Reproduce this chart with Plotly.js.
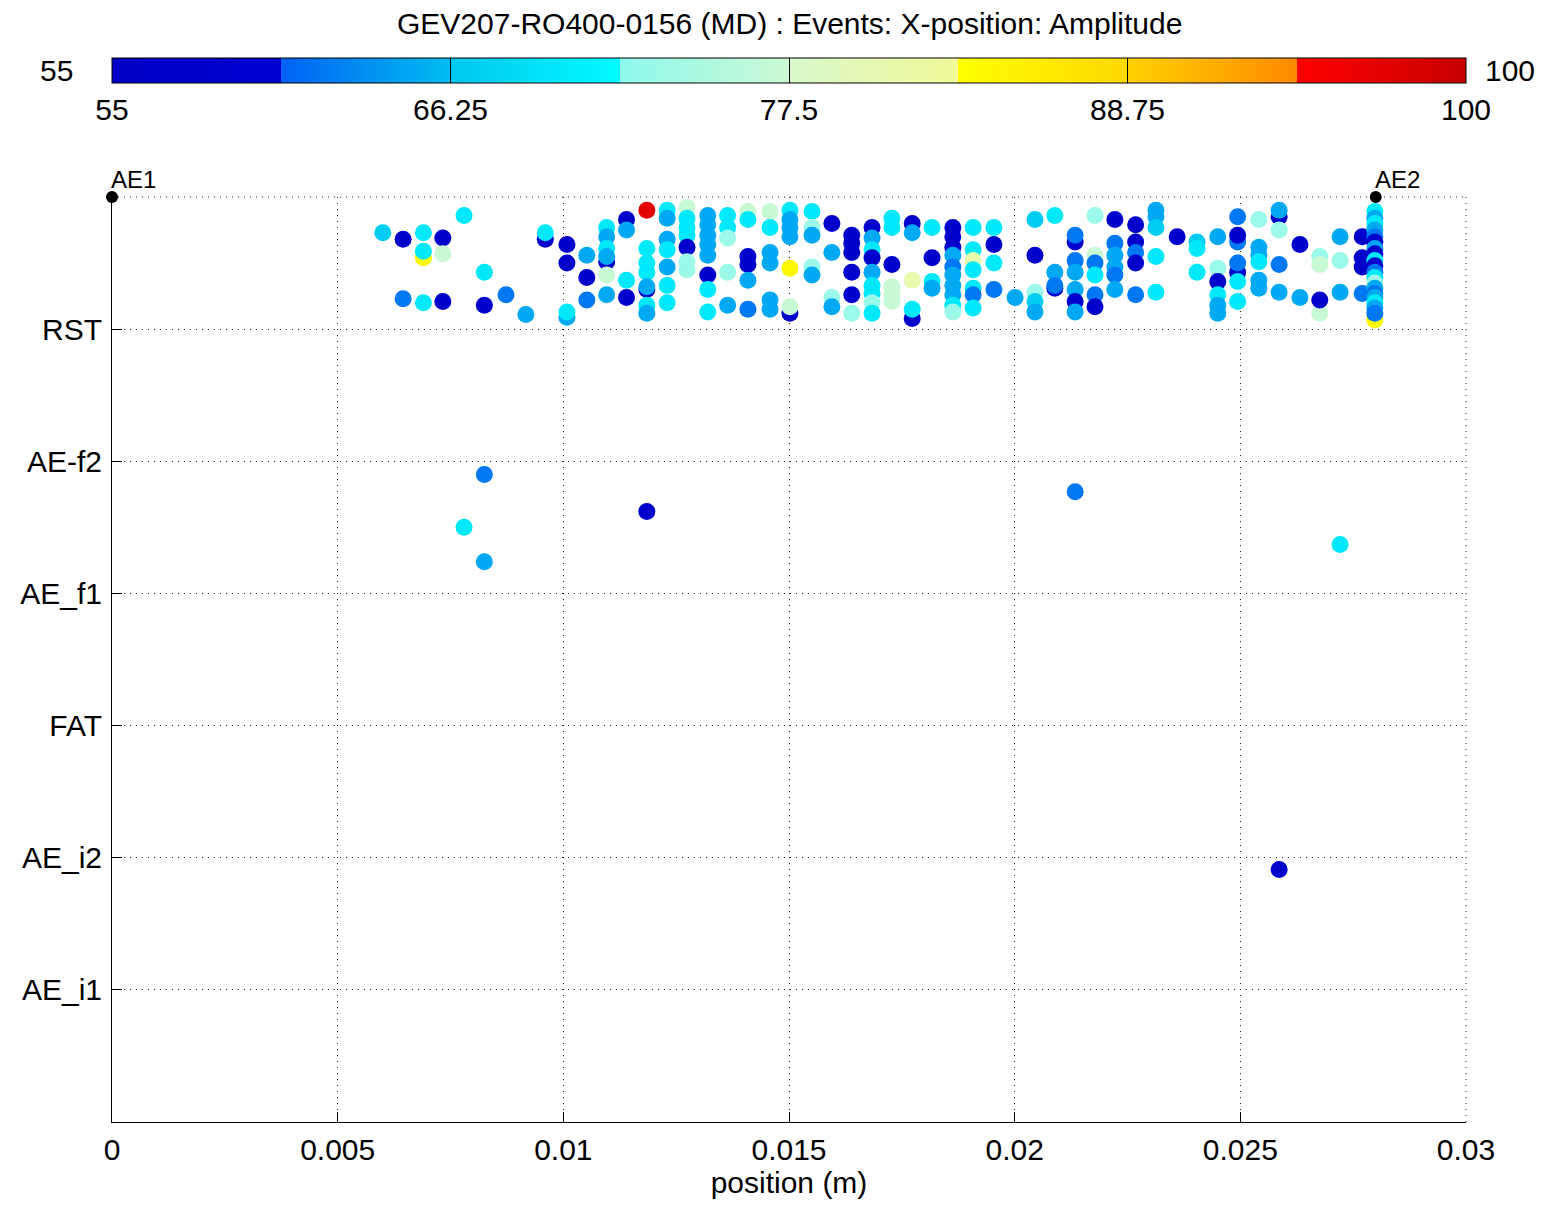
<!DOCTYPE html>
<html>
<head>
<meta charset="utf-8">
<script src="https://cdn.plot.ly/plotly-3.0.1.min.js"></script>
<style>html,body{margin:0;padding:0;background:#fff;}#chart{width:1545px;height:1207px;}</style>
</head>
<body>
<div id="chart"></div>
<script>
// ---- Data ----
const chartTitle = 'GEV207-RO400-0156 (MD) : Events: X-position: Amplitude';
const xTitle = 'position (m)';
const xTickVals = [0, 0.005, 0.01, 0.015, 0.02, 0.025, 0.03];
const xTickText = ['0', '0.005', '0.01', '0.015', '0.02', '0.025', '0.03'];
const yTickVals = [1, 2, 3, 4, 5, 6, 7];
const yTickText = ['AE_i1', 'AE_i2', 'FAT', 'AE_f1', 'AE-f2', 'RST', ''];
const cbTickVals = [55, 66.25, 77.5, 88.75, 100];
const cbTickText = ['55', '66.25', '77.5', '88.75', '100'];
const ampMin = 55, ampMax = 100;
const sensorNames = ['AE1', 'AE2'];
const sensorX = [0, 0.028];
const sensorY = [7, 7];

// event position (m)
const eventX = [
  0.0060,
  0.00645, 0.00645,
  0.0069, 0.0069, 0.0069, 0.0069,
  0.00733, 0.00733, 0.00733,
  0.0078,
  0.00825, 0.00825, 0.00825, 0.00825,
  0.0078,
  0.00873,
  0.00917,
  0.0096, 0.0096,
  0.01008, 0.01008, 0.01008, 0.01008,
  0.01052, 0.01052, 0.01052,
  0.01096, 0.01096, 0.01096, 0.01096, 0.01096, 0.01096, 0.01096,
  0.0114, 0.0114, 0.0114, 0.0114,
  0.01185, 0.01185, 0.01185, 0.01185, 0.01185, 0.01185, 0.01185, 0.01185, 0.01185,
  0.0123, 0.0123, 0.0123, 0.0123, 0.0123, 0.0123, 0.0123,
  0.01274, 0.01274, 0.01274, 0.01274, 0.01274, 0.01274, 0.01274,
  0.0132, 0.0132, 0.0132, 0.0132, 0.0132, 0.0132, 0.0132, 0.0132,
  0.01364, 0.01364, 0.01364, 0.01364, 0.01364,
  0.01409, 0.01409, 0.01409, 0.01409, 0.01409, 0.01409,
  0.01458, 0.01458, 0.01458, 0.01458, 0.01458, 0.01458,
  0.01502, 0.01502, 0.01502, 0.01502, 0.01502, 0.01502, 0.01502,
  0.01551, 0.01551, 0.01551, 0.01551, 0.01551,
  0.01595, 0.01595, 0.01595, 0.01595,
  0.01639, 0.01639, 0.01639, 0.01639, 0.01639, 0.01639,
  0.01684, 0.01684, 0.01684, 0.01684, 0.01684, 0.01684, 0.01684, 0.01684, 0.01684,
  0.01728, 0.01728, 0.01728, 0.01728, 0.01728, 0.01728,
  0.01773, 0.01773, 0.01773, 0.01773, 0.01773,
  0.01817, 0.01817, 0.01817, 0.01817,
  0.01863, 0.01863, 0.01863, 0.01863, 0.01863, 0.01863, 0.01863, 0.01863, 0.01863, 0.01863,
  0.01908, 0.01908, 0.01908, 0.01908, 0.01908, 0.01908, 0.01908,
  0.01954, 0.01954, 0.01954, 0.01954,
  0.02001,
  0.02045, 0.02045, 0.02045, 0.02045, 0.02045,
  0.02089, 0.02089, 0.02089, 0.02089,
  0.02134, 0.02134, 0.02134, 0.02134, 0.02134, 0.02134, 0.02134, 0.02134,
  0.02178, 0.02178, 0.02178, 0.02178, 0.02178, 0.02178,
  0.02222, 0.02222, 0.02222, 0.02222, 0.02222, 0.02222,
  0.02268, 0.02268, 0.02268, 0.02268, 0.02268,
  0.02313, 0.02313, 0.02313, 0.02313, 0.02313,
  0.0236,
  0.02404, 0.02404, 0.02404,
  0.0245, 0.0245, 0.0245, 0.0245, 0.0245, 0.0245,
  0.02494, 0.02494, 0.02494, 0.02494, 0.02494, 0.02494, 0.02494,
  0.02541, 0.02541, 0.02541, 0.02541, 0.02541, 0.02541,
  0.02586, 0.02586, 0.02586, 0.02586, 0.02586, 0.02586,
  0.02632, 0.02632,
  0.02676, 0.02676, 0.02676, 0.02676,
  0.02721, 0.02721, 0.02721, 0.02721,
  0.0277, 0.0277, 0.0277, 0.0277,
  0.02798, 0.02798, 0.02798, 0.02798, 0.02798, 0.02798, 0.02798, 0.02798, 0.02798, 0.02798,
  0.02798, 0.02798, 0.02798, 0.02798, 0.02798, 0.02798, 0.02798, 0.02798, 0.02798, 0.02798
];

// event level on the category axis (1 = AE_i1 ... 6 = RST)
const eventLevel = [
  6.73,
  6.68, 6.23,
  6.54, 6.59, 6.73, 6.20,
  6.69, 6.57, 6.21,
  6.86,
  6.43, 6.18, 4.90, 4.24,
  4.50,
  6.26,
  6.11,
  6.68, 6.73,
  6.64, 6.50, 6.09, 6.13,
  6.56, 6.39, 6.22,
  6.77, 6.70, 6.61, 6.51, 6.55, 6.41, 6.26,
  6.83, 6.75, 6.37, 6.24,
  6.90, 6.61, 6.50, 6.43, 6.30, 6.32, 6.18, 6.12, 4.62,
  6.90, 6.84, 6.68, 6.60, 6.47, 6.33, 6.20,
  6.92, 6.84, 6.77, 6.71, 6.62, 6.51, 6.45,
  6.86, 6.79, 6.71, 6.64, 6.56, 6.41, 6.30, 6.13,
  6.86, 6.77, 6.69, 6.43, 6.18,
  6.89, 6.83, 6.55, 6.49, 6.37, 6.15,
  6.89, 6.77, 6.58, 6.50, 6.22, 6.15,
  6.90, 6.83, 6.77, 6.70, 6.46, 6.12, 6.17,
  6.89, 6.77, 6.71, 6.47, 6.41,
  6.80, 6.58, 6.24, 6.17,
  6.71, 6.65, 6.58, 6.43, 6.26, 6.12,
  6.77, 6.69, 6.60, 6.54, 6.43, 6.33, 6.27, 6.20, 6.12,
  6.84, 6.77, 6.49, 6.32, 6.26, 6.21,
  6.80, 6.73, 6.37, 6.08, 6.15,
  6.77, 6.54, 6.36, 6.31,
  6.77, 6.70, 6.62, 6.56, 6.47, 6.41, 6.33, 6.26, 6.18, 6.13,
  6.77, 6.60, 6.52, 6.45, 6.31, 6.26, 6.16,
  6.77, 6.64, 6.50, 6.30,
  6.24,
  6.83, 6.56, 6.28, 6.21, 6.13,
  6.86, 6.43, 6.31, 6.33,
  6.66, 6.71, 6.52, 6.43, 6.30, 6.21, 6.13, 4.77,
  6.86, 6.56, 6.50, 6.41, 6.26, 6.17,
  6.83, 6.65, 6.56, 6.47, 6.41, 6.30,
  6.79, 6.66, 6.58, 6.50, 6.26,
  6.90, 6.85, 6.77, 6.55, 6.28,
  6.70,
  6.66, 6.61, 6.43,
  6.70, 6.46, 6.36, 6.26, 6.18, 6.12,
  6.85, 6.66, 6.71, 6.43, 6.50, 6.36, 6.21,
  6.83, 6.62, 6.56, 6.51, 6.37, 6.31,
  6.85, 6.90, 6.75, 6.49, 6.28, 1.91,
  6.64, 6.24,
  6.55, 6.49, 6.12, 6.22,
  6.70, 6.52, 6.28, 4.37,
  6.70, 6.54, 6.47, 6.27,
  6.07, 6.89, 6.84, 6.80, 6.75, 6.70, 6.66, 6.61, 6.57, 6.52,
  6.48, 6.43, 6.39, 6.35, 6.31, 6.27, 6.24, 6.20, 6.16, 6.12
];

// event amplitude (dB)
const eventAmp = [
  67,
  58, 62,
  84, 70, 70, 70,
  58, 77, 58,
  70,
  70, 58, 62, 65,
  70,
  62,
  65,
  58, 70,
  58, 58, 65, 70,
  65, 58, 62,
  70, 65, 70, 58, 65, 77, 65,
  58, 65, 70, 58,
  97, 70, 70, 70, 58, 65, 70, 65, 58,
  70, 65, 65, 70, 65, 70, 70,
  77, 70, 70, 70, 58, 73, 73,
  65, 65, 65, 65, 65, 58, 70, 70,
  70, 70, 73, 73, 65,
  77, 70, 58, 58, 65, 62,
  77, 70, 65, 65, 65, 65,
  70, 65, 65, 65, 84, 58, 77,
  70, 73, 65, 73, 65,
  58, 65, 73, 65,
  58, 58, 58, 58, 58, 73,
  58, 65, 70, 58, 65, 70, 70, 73, 70,
  70, 70, 58, 77, 77, 77,
  58, 65, 81, 58, 70,
  70, 58, 70, 65,
  58, 58, 58, 65, 62, 65, 65, 65, 70, 73,
  70, 70, 81, 70, 70, 62, 70,
  70, 58, 70, 62,
  65,
  67, 58, 73, 67, 65,
  70, 65, 58, 62,
  58, 62, 62, 65, 65, 58, 65, 62,
  73, 77, 62, 70, 62, 58,
  58, 62, 65, 65, 62, 65,
  58, 58, 62, 58, 62,
  65, 65, 67, 70, 70,
  58,
  67, 70, 70,
  65, 73, 58, 70, 65, 65,
  62, 62, 58, 58, 62, 70, 70,
  73, 65, 65, 70, 65, 65,
  58, 65, 73, 62, 65, 58,
  58, 65,
  73, 77, 77, 58,
  65, 73, 65, 70,
  58, 58, 58, 62,
  84, 70, 65, 70, 65, 62, 58, 65, 58, 70,
  58, 62, 70, 73, 65, 62, 65, 70, 65, 62
];

// ---- Colour map (banded, as in the reference colour bar) ----
const ampColorscale = [
  [0.000, '#0000c8'], [0.125, '#0000d2'],
  [0.125, '#0062f4'], [0.250, '#00bdf0'],
  [0.250, '#00c6ef'], [0.375, '#00fbff'],
  [0.375, '#8ef9ee'], [0.500, '#cbf9d2'],
  [0.500, '#d8f9cc'], [0.625, '#f2fa98'],
  [0.625, '#ffff00'], [0.750, '#ffd800'],
  [0.750, '#ffd200'], [0.875, '#ff8a00'],
  [0.875, '#ff0000'], [1.000, '#c80000']
];

const FONT = 'Liberation Sans, Arial, Helvetica, sans-serif';
const FS = 30;
const GRIDDASH = '1px,5px';

const events = {
  type: 'scatter',
  mode: 'markers',
  x: eventX,
  y: eventLevel,
  cliponaxis: false,
  hoverinfo: 'x+y+text',
  text: eventAmp.map(String),
  marker: {
    size: 17,
    color: eventAmp,
    cmin: ampMin,
    cmax: ampMax,
    colorscale: ampColorscale,
    line: {width: 0},
    showscale: true,
    colorbar: {
      orientation: 'h',
      x: 0.5, xref: 'paper', xanchor: 'center',
      y: (1122 - 152) / 925, yref: 'paper', yanchor: 'bottom',
      len: 1354, lenmode: 'pixels',
      thickness: 25, thicknessmode: 'pixels',
      xpad: 0, ypad: 0,
      outlinecolor: '#000', outlinewidth: 1,
      tickmode: 'array', tickvals: cbTickVals, ticktext: cbTickText,
      ticks: 'inside', ticklen: 25, tickwidth: 1, tickcolor: '#000',
      tickfont: {family: FONT, size: FS, color: '#000'}
    }
  }
};

const sensors = {
  type: 'scatter',
  mode: 'markers',
  x: sensorX,
  y: sensorY,
  cliponaxis: false,
  hoverinfo: 'skip',
  marker: {size: 12, color: '#000'}
};

const annotations = sensorNames.map((n, i) => ({
  x: sensorX[i], y: sensorY[i], xref: 'x', yref: 'y',
  text: n, showarrow: false, xanchor: 'left', yanchor: 'bottom', yshift: 2, xshift: -3,
  font: {family: FONT, size: 24, color: '#000'}
}));
annotations.push({
  x: (57 - 112) / 1354, y: (1122 - 70) / 925, xref: 'paper', yref: 'paper',
  text: String(ampMin), showarrow: false, xanchor: 'center', yanchor: 'middle',
  font: {family: FONT, size: FS, color: '#000'}
});
annotations.push({
  x: (1510 - 112) / 1354, y: (1122 - 70) / 925, xref: 'paper', yref: 'paper',
  text: String(ampMax), showarrow: false, xanchor: 'center', yanchor: 'middle',
  font: {family: FONT, size: FS, color: '#000'}
});
// chart title (placed above the colour bar)
annotations.push({
  x: 0.5, y: (1122 - 24) / 925, xref: 'paper', yref: 'paper',
  text: chartTitle, showarrow: false, xanchor: 'center', yanchor: 'middle',
  font: {family: FONT, size: FS, color: '#000'}
});

// frame edges that carry the dotted grid in the reference (top and right)
const shapes = [
  {type: 'line', xref: 'paper', yref: 'paper', x0: 0, x1: 1, y0: 1, y1: 1,
   line: {color: '#222', width: 1, dash: GRIDDASH}, layer: 'below'},
  {type: 'line', xref: 'paper', yref: 'paper', x0: 1, x1: 1, y0: 0, y1: 1,
   line: {color: '#222', width: 1, dash: GRIDDASH}, layer: 'below'}
];

const layout = {
  width: 1545, height: 1207,
  margin: {l: 112, r: 79, t: 197, b: 85, pad: 0, autoexpand: false},
  paper_bgcolor: '#fff', plot_bgcolor: '#fff',
  font: {family: FONT, size: FS, color: '#000'},
  showlegend: false,
  xaxis: {
    range: [0, 0.03], tickmode: 'array', tickvals: xTickVals, ticktext: xTickText,
    ticks: 'inside', ticklen: 10, tickcolor: '#000', ticklabelstandoff: 1,
    showline: true, linecolor: '#000', linewidth: 1, mirror: false,
    showgrid: true, gridcolor: '#222', griddash: GRIDDASH, gridwidth: 1,
    zeroline: false, fixedrange: true, automargin: false,
    tickfont: {family: FONT, size: FS, color: '#000'},
    title: {text: xTitle, standoff: 8, font: {family: FONT, size: FS, color: '#000'}}
  },
  yaxis: {
    range: [0, 7], tickmode: 'array', tickvals: yTickVals, ticktext: yTickText,
    ticks: 'inside', ticklen: 10, tickcolor: '#000', ticklabelstandoff: 3,
    showline: true, linecolor: '#000', linewidth: 1, mirror: false,
    showgrid: true, gridcolor: '#222', griddash: GRIDDASH, gridwidth: 1,
    zeroline: false, fixedrange: true, automargin: false,
    tickfont: {family: FONT, size: FS, color: '#000'}
  },
  shapes: shapes,
  annotations: annotations
};

Plotly.newPlot('chart', [events, sensors], layout, {displayModeBar: false, staticPlot: true});
</script>
</body>
</html>
